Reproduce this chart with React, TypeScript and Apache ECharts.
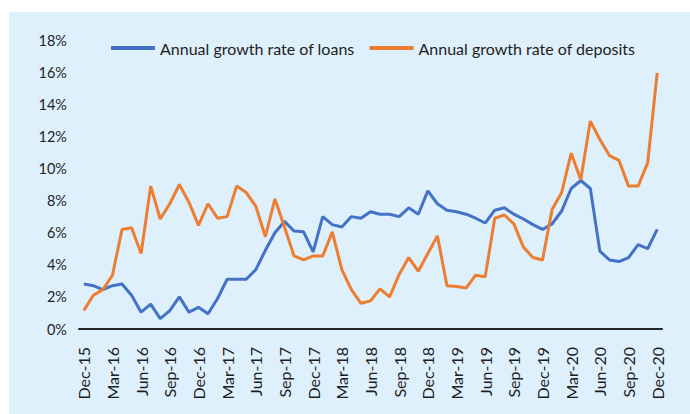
import React, { useEffect, useRef } from "react";
import * as echarts from "echarts";

const months = ["Dec", "Jan", "Feb", "Mar", "Apr", "May", "Jun", "Jul", "Aug", "Sep", "Oct", "Nov"];
const categories: string[] = [];
for (let i = 0; i <= 60; i++) {
  const m = i % 12;
  const yr = 15 + Math.floor((i + 11) / 12);
  categories.push(`${months[m]}-${yr}`);
}

const loans = [
  2.8, 2.7, 2.45, 2.7, 2.8, 2.1, 1.05, 1.55, 0.65, 1.15, 2.0, 1.05, 1.35,
  0.95, 1.9, 3.1, 3.1, 3.1, 3.7, 4.9, 6.0, 6.7, 6.1, 6.05, 4.8,
  7.0, 6.5, 6.35, 7.0, 6.9, 7.3, 7.15, 7.15, 7.0, 7.55, 7.15, 8.6,
  7.8, 7.4, 7.3, 7.15, 6.9, 6.6, 7.4, 7.55, 7.15, 6.85, 6.5, 6.2,
  6.55, 7.35, 8.75, 9.25, 8.75, 4.85, 4.3, 4.2, 4.45, 5.25, 5.0, 6.2,
];

const deposits = [
  1.15, 2.1, 2.45, 3.35, 6.2, 6.3, 4.7, 8.9, 6.85, 7.8, 9.0, 7.9, 6.45,
  7.8, 6.9, 7.0, 8.9, 8.5, 7.65, 5.75, 8.1, 6.35, 4.55, 4.3, 4.55,
  4.55, 6.05, 3.7, 2.45, 1.6, 1.75, 2.5, 2.0, 3.4, 4.45, 3.6, 4.7,
  5.8, 2.7, 2.65, 2.55, 3.35, 3.25, 6.9, 7.1, 6.55, 5.1, 4.45, 4.3,
  7.45, 8.5, 10.95, 9.3, 12.95, 11.8, 10.8, 10.5, 8.9, 8.9, 10.35, 15.95,
];

const seriesNames = ["Annual growth rate of loans", "Annual growth rate of deposits"];

const FONT = "Lato";
const TEXT = "#1e1e1e";

export default function App() {
  const ref = useRef<HTMLDivElement>(null);
  useEffect(() => {
    document.body.style.margin = "0";
    if (!ref.current) return;
    const chart = echarts.init(ref.current, null, { renderer: "svg" });
    chart.setOption({
      animation: false,
      textStyle: { fontFamily: FONT },
      legend: {
        top: 35,
        left: 106,
        itemWidth: 44,
        itemHeight: 4,
        itemGap: 15,
        icon: "rect",
        textStyle: { fontSize: 16, color: TEXT, fontFamily: FONT },
        data: seriesNames,
      },
      grid: { left: 79, right: 28, top: 40, bottom: 85, containLabel: false },
      xAxis: {
        type: "category",
        data: categories,
        boundaryGap: true,
        axisLine: { lineStyle: { color: "#262626", width: 2 } },
        axisTick: { show: false },
        axisLabel: {
          interval: 2,
          rotate: 90,
          margin: 18,
          fontSize: 16,
          color: TEXT,
          fontFamily: FONT,
        },
      },
      yAxis: {
        type: "value",
        min: 0,
        max: 18,
        interval: 2,
        splitLine: { show: false },
        axisLine: { show: false },
        axisTick: { show: false },
        axisLabel: {
          formatter: "{value}%",
          fontSize: 14.5,
          margin: 12,
          color: TEXT,
          fontFamily: FONT,
        },
      },
      series: [
        {
          name: seriesNames[0],
          type: "line",
          data: loans,
          symbol: "none",
          lineStyle: { color: "#4472C4", width: 3 },
          itemStyle: { color: "#4472C4" },
        },
        {
          name: seriesNames[1],
          type: "line",
          data: deposits,
          symbol: "none",
          lineStyle: { color: "#ED7D31", width: 3 },
          itemStyle: { color: "#ED7D31" },
        },
      ],
    });
    return () => chart.dispose();
  }, []);
  return (
    <div style={{ position: "relative", width: 690, height: 414, background: "#fff" }}>
      <div
        style={{
          position: "absolute",
          left: 9,
          top: 12,
          right: 0,
          bottom: 0,
          background: "#DEF0FC",
        }}
      />
      <div ref={ref} style={{ position: "absolute", left: 0, top: 0, width: 690, height: 414 }} />
    </div>
  );
}
